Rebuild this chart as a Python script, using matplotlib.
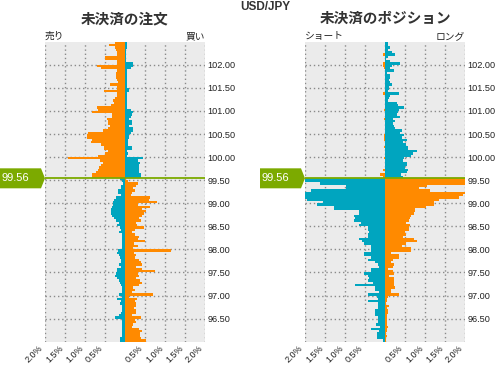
import numpy as np
import matplotlib
matplotlib.use('Agg')
import matplotlib.pyplot as plt
import matplotlib.patches as mpatches

plt.rcParams['font.family'] = ['Liberation Sans', 'Noto Sans CJK JP', 'DejaVu Sans']

# price bins (lower edge of each 0.05 bin), top to bottom
price_bins = np.round(np.arange(102.45, 95.99, -0.05), 2)
current_price = 99.56
split_price = 99.55   # bins from here up sit above the market

# 未決済の注文 : % of orders per bin (59 bins above, 71 below)
orders_above_left = [0.25, 0.40, 0.25, 0.22, 0.21, 0.19, 0.50, 0.50, 0.21, 0.19,
                     0.71, 0.60, 0.19, 0.22, 0.22, 0.22, 0.19, 0.17, 0.37, 0.20,
                     0.19, 0.52, 0.19, 0.19, 0.25, 0.29, 0.27, 0.35, 0.71, 0.67,
                     0.82, 0.32, 0.33, 0.44, 0.42, 0.42, 0.37, 0.42, 0.54, 0.92,
                     0.94, 0.96, 0.82, 0.86, 0.61, 0.52, 0.52, 0.42, 0.50, 0.67,
                     1.42, 0.63, 0.55, 0.60, 0.65, 0.67, 0.73, 0.82, 0.82]
orders_above_right = [0.05, 0.05, 0.05, 0.03, 0.03, 0.03, 0.03, 0.03, 0.03, 0.20,
                      0.20, 0.15, 0.05, 0.05, 0.04, 0.05, 0.05, 0.04, 0.05, 0.05,
                      0.10, 0.10, 0.05, 0.05, 0.05, 0.05, 0.05, 0.05, 0.05, 0.15,
                      0.20, 0.18, 0.15, 0.10, 0.18, 0.18, 0.10, 0.20, 0.20, 0.15,
                      0.10, 0.10, 0.08, 0.08, 0.07, 0.17, 0.17, 0.06, 0.07, 0.06,
                      0.45, 0.32, 0.37, 0.35, 0.34, 0.35, 0.35, 0.40, 0.40]
orders_below_left = [0.12, 0.07, 0.05, 0.11, 0.11, 0.17, 0.17, 0.11, 0.23, 0.28,
                     0.29, 0.29, 0.32, 0.36, 0.36, 0.34, 0.32, 0.28, 0.22, 0.15,
                     0.19, 0.13, 0.11, 0.15, 0.07, 0.08, 0.07, 0.07, 0.07, 0.07,
                     0.07, 0.17, 0.19, 0.15, 0.13, 0.11, 0.11, 0.15, 0.11, 0.19,
                     0.19, 0.22, 0.25, 0.19, 0.15, 0.13, 0.11, 0.08, 0.07, 0.07,
                     0.15, 0.08, 0.19, 0.11, 0.13, 0.08, 0.07, 0.07, 0.11, 0.15,
                     0.25, 0.08, 0.07, 0.07, 0.07, 0.08, 0.07, 0.07, 0.07, 0.13,
                     0.13]
orders_below_right = [0.02, 0.08, 0.33, 0.27, 0.20, 0.25, 0.18, 0.14, 0.62, 0.60,
                      0.81, 0.33, 0.62, 0.43, 0.52, 0.47, 0.43, 0.35, 0.39, 0.28,
                      0.31, 0.48, 0.25, 0.18, 0.25, 0.35, 0.33, 0.50, 0.23, 0.33,
                      0.20, 1.14, 0.23, 0.28, 0.25, 0.35, 0.39, 0.42, 0.28, 0.43,
                      0.75, 0.33, 0.35, 0.28, 0.37, 0.42, 0.35, 0.20, 0.25, 0.18,
                      0.70, 0.10, 0.31, 0.25, 0.27, 0.27, 0.22, 0.28, 0.28, 0.18,
                      0.39, 0.25, 0.27, 0.20, 0.18, 0.35, 0.42, 0.37, 0.37, 0.39,
                      0.53]

# 未決済のポジション : % of positions per bin
positions_above_left = [0.00, 0.00, 0.00, 0.00, 0.00, 0.04, 0.00, 0.00, 0.00, 0.04,
                        0.04, 0.03, 0.00, 0.00, 0.00, 0.00, 0.00, 0.00, 0.00, 0.00,
                        0.00, 0.00, 0.06, 0.00, 0.00, 0.00, 0.00, 0.00, 0.00, 0.03,
                        0.00, 0.00, 0.00, 0.03, 0.00, 0.00, 0.00, 0.00, 0.00, 0.00,
                        0.03, 0.03, 0.03, 0.00, 0.00, 0.03, 0.00, 0.00, 0.00, 0.00,
                        0.03, 0.00, 0.00, 0.00, 0.00, 0.04, 0.00, 0.12, 0.06]
positions_above_right = [0.07, 0.07, 0.12, 0.07, 0.18, 0.25, 0.08, 0.03, 0.12, 0.37,
                         0.17, 0.12, 0.22, 0.05, 0.12, 0.12, 0.10, 0.12, 0.17, 0.10,
                         0.10, 0.08, 0.35, 0.12, 0.10, 0.08, 0.31, 0.33, 0.47, 0.36,
                         0.33, 0.29, 0.37, 0.19, 0.25, 0.21, 0.23, 0.25, 0.42, 0.37,
                         0.47, 0.42, 0.56, 0.44, 0.52, 0.58, 0.58, 0.81, 0.69, 0.64,
                         0.47, 0.44, 0.54, 0.56, 0.50, 0.58, 0.54, 0.40, 0.44]
positions_below_left = [2.00, 2.00, 1.62, 0.97, 0.97, 1.85, 2.00, 2.00, 2.00, 1.95,
                        1.56, 1.70, 1.27, 1.27, 0.66, 0.66, 0.77, 0.74, 0.77, 0.60,
                        0.64, 0.42, 0.42, 0.39, 0.42, 0.43, 0.64, 0.58, 0.52, 0.35,
                        0.35, 0.35, 0.52, 0.52, 0.35, 0.42, 0.24, 0.18, 0.14, 0.34,
                        0.34, 0.52, 0.43, 0.39, 0.43, 0.31, 0.74, 0.24, 0.24, 0.16,
                        0.42, 0.21, 0.17, 0.43, 0.17, 0.17, 0.17, 0.24, 0.24, 0.24,
                        0.17, 0.17, 0.17, 0.22, 0.12, 0.35, 0.14, 0.21, 0.21, 0.21,
                        0.06]
positions_below_right = [2.00, 2.00, 2.00, 1.05, 0.84, 1.12, 2.00, 1.94, 1.86, 1.36,
                         1.22, 1.23, 1.03, 0.76, 0.75, 0.73, 0.65, 0.62, 0.61, 0.52,
                         0.62, 0.61, 0.61, 0.51, 0.53, 0.46, 0.73, 0.81, 0.53, 0.43,
                         0.66, 0.65, 0.15, 0.36, 0.36, 0.21, 0.15, 0.23, 0.19, 0.07,
                         0.21, 0.23, 0.11, 0.23, 0.23, 0.22, 0.23, 0.26, 0.15, 0.15,
                         0.36, 0.07, 0.04, 0.04, 0.03, 0.11, 0.04, 0.07, 0.07, 0.05,
                         0.04, 0.04, 0.04, 0.04, 0.07, 0.05, 0.04, 0.03, 0.04, 0.03,
                         0.02]

xtick_vals = [-2.0, -1.5, -1.0, -0.5, 0.0, 0.5, 1.0, 1.5, 2.0]
xtick_labels = ['2.0%', '1.5%', '1.0%', '0.5%', '', '0.5%', '1.0%', '1.5%', '2.0%']
ytick_vals = [96.5, 97.0, 97.5, 98.0, 98.5, 99.0, 99.5, 100.0, 100.5, 101.0, 101.5, 102.0]

panels = [
    ('未決済の注文', '売り', '買い',
     orders_above_left + orders_below_left, orders_above_right + orders_below_right),
    ('未決済のポジション', 'ショート', 'ロング',
     positions_above_left + positions_below_left, positions_above_right + positions_below_right),
]

ORANGE = '#ff8a00'
TEAL = '#00a5bf'
GREEN = '#7caa00'
W, H = 497, 365

fig = plt.figure(figsize=(W / 100, H / 100), dpi=100)
fig.text(265 / W, 1 - 7 / H, 'USD/JPY', ha='center', va='center',
         fontsize=8.5, fontweight='bold', color='#333333')

above = price_bins >= split_price - 1e-9
for k, (title, lab_l, lab_r, left_vals, right_vals) in enumerate(panels):
    x0 = 45 + 260 * k
    ax = fig.add_axes([x0 / W, 23.3 / H, 160 / W, 300 / H])
    ax.set_facecolor('#ebebeb')
    left_vals = np.array(left_vals)
    right_vals = np.array(right_vals)
    ax.barh(price_bins, -left_vals, height=0.05, align='edge', linewidth=0,
            color=np.where(above, ORANGE, TEAL), antialiased=False, zorder=2)
    ax.barh(price_bins, right_vals, height=0.05, align='edge', linewidth=0,
            color=np.where(above, TEAL, ORANGE), antialiased=False, zorder=2)
    ax.axhline(current_price - 0.02, color=GREEN, linewidth=1.3, zorder=3)

    ax.set_xlim(-2, 2)
    ax.set_ylim(96.0, 102.5)
    ax.set_xticks(xtick_vals)
    ax.set_xticklabels(xtick_labels, rotation=45, ha='right', va='top',
                       fontsize=6.5, color='#222222')
    ax.yaxis.tick_right()
    ax.set_yticks(ytick_vals)
    ax.set_yticklabels(['%.2f' % v for v in ytick_vals], fontsize=6.6, color='#222222')
    ax.tick_params(axis='both', length=0)
    ax.tick_params(axis='y', pad=2)
    ax.tick_params(axis='x', pad=1.5)
    ax.grid(True, linestyle=(0, (1, 2)), color='#8a8a8a', linewidth=1.0)
    ax.set_axisbelow(True)
    for s in ax.spines.values():
        s.set_visible(False)

    # titles and side labels
    cx = x0 + 80
    fig.text(cx / W, 1 - 18 / H, title, ha='center', va='center', fontsize=10.5,
             fontweight='bold', color='#333333', family='Noto Sans CJK JP')
    fig.text(x0 / W, 1 - 36 / H, lab_l, ha='left', va='center', fontsize=7,
             color='#222222', family='Noto Sans CJK JP')
    fig.text((x0 + 160) / W, 1 - 36 / H, lab_r, ha='right', va='center', fontsize=7,
             color='#222222', family='Noto Sans CJK JP')

    # current price marker
    y_disp = ax.transData.transform((0, current_price - 0.02))[1]
    yf = y_disp / H
    hh = 10 / H
    mx = (x0 - 45) / W
    pts = [(mx, yf + hh), (mx + 41 / W, yf + hh), (mx + 45 / W, yf),
           (mx + 41 / W, yf - hh), (mx, yf - hh)]
    fig.patches.append(mpatches.Polygon(pts, closed=True, transform=fig.transFigure,
                                        facecolor=GREEN, edgecolor='none', figure=fig))
    fig.text(mx + 2 / W, yf, '%.2f' % current_price, ha='left', va='center',
             fontsize=8, color='white')

fig.savefig('out.png', dpi=100)
